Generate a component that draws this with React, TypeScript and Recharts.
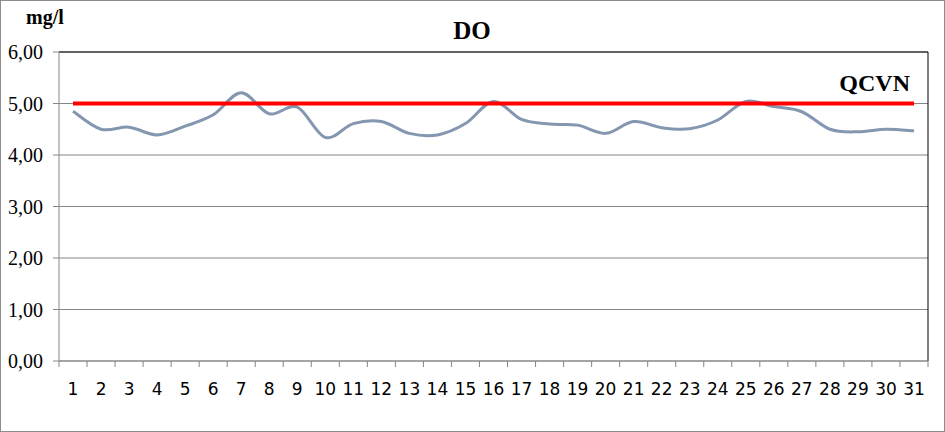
import React from 'react';
import { LineChart, Line, XAxis, YAxis, CartesianGrid, ReferenceLine } from 'recharts';

// Day of the month (x categories)
const days = [1, 2, 3, 4, 5, 6, 7, 8, 9, 10, 11, 12, 13, 14, 15, 16, 17, 18, 19, 20, 21, 22, 23, 24, 25, 26, 27, 28, 29, 30, 31];

// Measured dissolved oxygen, mg/l
const doValues = [
  4.85, 4.5, 4.54, 4.39, 4.56, 4.78, 5.21, 4.8, 4.93, 4.34, 4.61, 4.65, 4.42, 4.39, 4.61, 5.04,
  4.69, 4.6, 4.58, 4.42, 4.65, 4.53, 4.51, 4.68, 5.04, 4.94, 4.84, 4.5, 4.45, 4.5, 4.47
];

// QCVN limit
const qcvnValues = [
  5, 5, 5, 5, 5, 5, 5, 5, 5, 5, 5, 5, 5, 5, 5, 5, 5, 5, 5, 5, 5, 5, 5, 5, 5, 5, 5, 5, 5, 5, 5
];

const yTicks = [0, 1, 2, 3, 4, 5, 6];

const data = days.map((day, i) => ({ day, do: doValues[i], qcvn: qcvnValues[i] }));

// category boundaries: tick marks sit between the days, like Excel
const boundaryTicks = [...days.map((d) => d - 0.5), days[days.length - 1] + 0.5];

// Excel-like smoothing (Catmull-Rom style bezier)
const excelSmooth = (context: any) => {
  let pts: number[][] = [];
  return {
    areaStart() {},
    areaEnd() {},
    lineStart() {
      pts = [];
    },
    point(x: number, y: number) {
      pts.push([+x, +y]);
    },
    lineEnd() {
      if (!pts.length) return;
      context.moveTo(pts[0][0], pts[0][1]);
      for (let i = 0; i < pts.length - 1; i++) {
        const p0 = pts[i - 1] || pts[i];
        const p1 = pts[i];
        const p2 = pts[i + 1];
        const p3 = pts[i + 2] || p2;
        context.bezierCurveTo(
          p1[0] + (p2[0] - p0[0]) / 6,
          p1[1] + (p2[1] - p0[1]) / 6,
          p2[0] - (p3[0] - p1[0]) / 6,
          p2[1] - (p3[1] - p1[1]) / 6,
          p2[0],
          p2[1]
        );
      }
    }
  };
};

const serif = '"Liberation Serif", "Times New Roman", serif';
const gridColor = '#868686';
const CHART_W = 943;
const MARGIN = { top: 51, right: 16, bottom: 30, left: 0 };
const Y_AXIS_W = 58;

// day label drawn in the middle of its category, half a step right of the boundary tick
const DayTick = (props: any) => {
  const { x, y, index, width } = props;
  if (index >= days.length) return null;
  const plotW = typeof width === 'number' && width > 100 ? width : CHART_W - MARGIN.left - MARGIN.right - Y_AXIS_W;
  const half = plotW / days.length / 2;
  return (
    <text
      x={x + half}
      y={y}
      dy="0.71em"
      textAnchor="middle"
      fill="#000"
      fontSize={17}
      fontFamily='"DejaVu Sans", sans-serif'
    >
      {days[index]}
    </text>
  );
};

const QcvnLabel = (props: any) => {
  const { x, y, index } = props;
  if (index !== days.length - 1) return null;
  return (
    <text x={x - 4} y={y - 13} textAnchor="end" fontFamily={serif} fontWeight="bold" fontSize={24} fill="#000">
      QCVN
    </text>
  );
};

export default function App() {
  return (
    <div
      style={{
        position: 'fixed',
        left: 0,
        top: 0,
        width: 945,
        height: 432,
        boxSizing: 'border-box',
        border: '1px solid #8c8c8c',
        background: '#fff'
      }}
    >
      <LineChart width={CHART_W} height={430} data={data} margin={MARGIN}>
        <CartesianGrid vertical={false} stroke={gridColor} />
        <XAxis
          dataKey="day"
          type="number"
          domain={[0.5, 31.5]}
          allowDataOverflow
          ticks={boundaryTicks}
          interval={0}
          tick={<DayTick />}
          tickLine={{ stroke: gridColor }}
          tickSize={6}
          tickMargin={16}
          stroke={gridColor}
          height={40}
        />
        <YAxis
          domain={[0, 6]}
          ticks={yTicks}
          interval={0}
          width={Y_AXIS_W}
          stroke={gridColor}
          tickSize={6}
          tickMargin={10}
          tickFormatter={(v) => v.toFixed(2).replace('.', ',')}
          tick={{ fill: '#000', fontSize: 20, fontFamily: serif }}
        />
        <ReferenceLine y={6} stroke="#000" />
        <ReferenceLine x={31.5} stroke="#000" />
        <Line
          type={excelSmooth as any}
          dataKey="do"
          stroke="#8497b0"
          strokeWidth={3}
          dot={false}
          activeDot={false}
          isAnimationActive={false}
        />
        <Line
          type="linear"
          dataKey="qcvn"
          stroke="#ff0000"
          strokeWidth={4}
          dot={false}
          activeDot={false}
          label={QcvnLabel}
          isAnimationActive={false}
        />
      </LineChart>
      <svg width={943} height={430} style={{ position: 'absolute', left: 0, top: 0, pointerEvents: 'none' }}>
        <text x={471} y={38} textAnchor="middle" fontFamily={serif} fontWeight="bold" fontSize={25} fill="#000">
          DO
        </text>
        <text x={25} y={23} fontFamily={serif} fontWeight="bold" fontSize={20} fill="#000">
          mg/l
        </text>
      </svg>
    </div>
  );
}
